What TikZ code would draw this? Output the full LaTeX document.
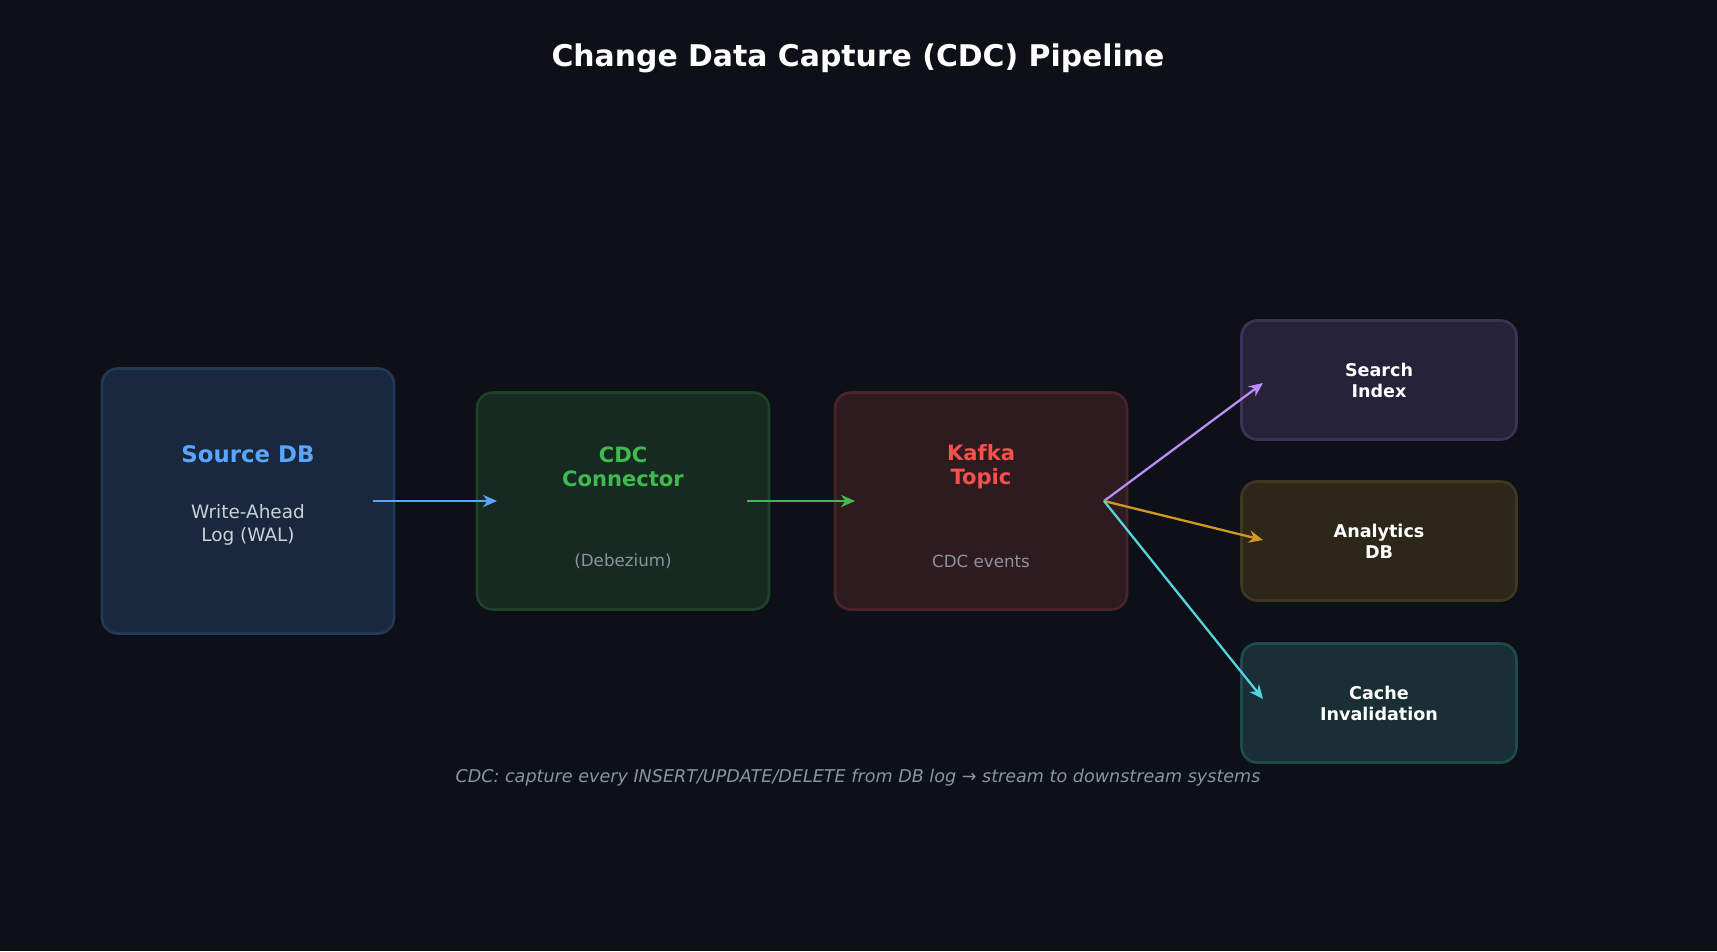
\documentclass[tikz,border=0pt]{standalone}
\usepackage{fontspec}
\setmainfont{DejaVu Sans}
\usetikzlibrary{arrows.meta}
\definecolor{bg}{HTML}{0D1117}
\definecolor{srcfill}{HTML}{19283C}\definecolor{srcline}{HTML}{223A5A}\definecolor{srctext}{HTML}{58A6FF}
\definecolor{cdcfill}{HTML}{162A21}\definecolor{cdcline}{HTML}{1F4029}\definecolor{cdctext}{HTML}{3FB950}
\definecolor{kafill}{HTML}{2D1B1F}\definecolor{kaline}{HTML}{4A2428}\definecolor{katext}{HTML}{F85149}
\definecolor{srchfill}{HTML}{262239}\definecolor{srchline}{HTML}{3A3357}
\definecolor{anfill}{HTML}{2D2719}\definecolor{anline}{HTML}{41361F}
\definecolor{cafill}{HTML}{1A2E35}\definecolor{caline}{HTML}{1F4A50}
\definecolor{purp}{HTML}{BC8CFF}\definecolor{oran}{HTML}{D29922}\definecolor{cyan2}{HTML}{56D4DD}
\definecolor{light}{HTML}{C9D1D9}\definecolor{grey2}{HTML}{8B949E}
\tikzset{
  stage/.style={draw, line width=1.5pt, rounded corners=9pt, minimum width=5.84cm},
  sink/.style={draw, line width=1.5pt, rounded corners=9pt, minimum width=5.5cm, minimum height=2.38cm,
    text=white, font=\bfseries\fontsize{10}{12}\selectfont, align=center},
  flow/.style={-{Stealth[length=8pt,width=7pt]}, line width=1.6pt}
}
\begin{document}
\begin{tikzpicture}[x=0.02cm,y=-0.02cm]
  \fill[bg] (0,0) rectangle (1717,951);
  \node[text=white, font=\bfseries\fontsize{17}{20}\selectfont] (title) at (858,58) {Change Data Capture (CDC) Pipeline};

  % pipeline stages
  \node[stage, fill=srcfill, draw=srcline, minimum height=5.3cm] (src) at (248,501) {};
  \node[stage, fill=cdcfill, draw=cdcline, minimum height=4.34cm] (cdc) at (623,501) {};
  \node[stage, fill=kafill, draw=kaline, minimum height=4.34cm] (kafka) at (981,501) {};
  \node[text=srctext, font=\bfseries\fontsize{13}{15}\selectfont] (srcT) at (248,454) {Source DB};
  \node[text=light, align=center, font=\fontsize{10.5}{13}\selectfont] (srcS) at (248,525) {Write-Ahead\\Log (WAL)};
  \node[text=cdctext, align=center, font=\bfseries\fontsize{12}{13.5}\selectfont] (cdcT) at (623,467) {CDC\\Connector};
  \node[text=grey2, font=\fontsize{9.5}{12}\selectfont] (cdcS) at (623,561) {(Debezium)};
  \node[text=katext, align=center, font=\bfseries\fontsize{12}{13.5}\selectfont] (kaT) at (981,467) {Kafka\\Topic};
  \node[text=grey2, font=\fontsize{9.5}{12}\selectfont] (kaS) at (981,561) {CDC events};

  % consumers
  \node[sink, fill=srchfill, draw=srchline] (search) at (1379,380) {Search\\Index};
  \node[sink, fill=anfill, draw=anline] (analytics) at (1379,541) {Analytics\\DB};
  \node[sink, fill=cafill, draw=caline] (cache) at (1379,703) {Cache\\Invalidation};

  \coordinate (s1) at (373,501); \coordinate (c0) at (497,501);
  \coordinate (c1) at (747,501); \coordinate (k0) at (855,501);
  \coordinate (k1) at (1104,501);
  \coordinate (e1) at (1263,383); \coordinate (e2) at (1263,540); \coordinate (e3) at (1263,699);
  \draw[flow, srctext] (s1) -- (c0);
  \draw[flow, cdctext] (c1) -- (k0);
  \draw[flow, purp, line width=1.3pt] (k1) -- (e1);
  \draw[flow, oran, line width=1.3pt] (k1) -- (e2);
  \draw[flow, cyan2, line width=1.3pt] (k1) -- (e3);

  \node[text=grey2, font=\itshape\fontsize{10}{12}\selectfont] (note) at (858,778)
    {CDC: capture every INSERT/UPDATE/DELETE from DB log → stream to downstream systems};
\end{tikzpicture}
\end{document}
